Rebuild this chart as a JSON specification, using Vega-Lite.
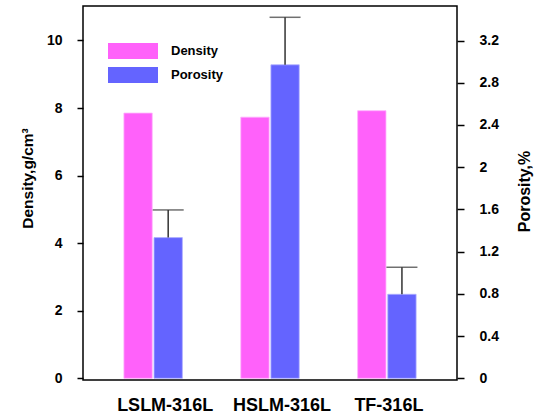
{
  "$schema": "https://vega.github.io/schema/vega-lite/v6.json",
  "width": 374,
  "height": 374,
  "autosize": {"type": "none"},
  "padding": {"left": 83, "top": 6, "right": 77, "bottom": 38},
  "background": "white",
  "data": {
    "values": [
      {"sample": "LSLM-316L", "series": "Density", "value": 7.85, "upper": null},
      {"sample": "HSLM-316L", "series": "Density", "value": 7.73, "upper": null},
      {"sample": "TF-316L", "series": "Density", "value": 7.92, "upper": null},
      {"sample": "LSLM-316L", "series": "Porosity", "value": 1.333, "upper": 1.595},
      {"sample": "HSLM-316L", "series": "Porosity", "value": 2.97, "upper": 3.42},
      {"sample": "TF-316L", "series": "Porosity", "value": 0.796, "upper": 1.052}
    ]
  },
  "encoding": {
    "x": {
      "field": "sample", "type": "nominal", "sort": ["LSLM-316L", "HSLM-316L", "TF-316L"],
      "scale": {"paddingInner": 0.5, "paddingOuter": 0.35},
      "axis": {"title": null, "ticks": false, "labelAngle": 0, "labelFontSize": 18, "labelPadding": 16,
               "labelOffset": {"condition": {"test": "datum.value === 'TF-316L'", "value": 2}, "value": 12}}
    },
    "xOffset": {
      "field": "series", "type": "nominal",
      "scale": {"domain": ["Density", "Porosity"], "paddingInner": 0.06, "paddingOuter": 0}
    }
  },
  "layer": [
    {
      "transform": [{"filter": "datum.series === 'Density'"}],
      "mark": {"type": "bar", "stroke": "#ffb0fd", "strokeWidth": 0.8},
      "encoding": {
        "y": {
          "field": "value", "type": "quantitative",
          "scale": {"domain": [-0.05, 11.02], "nice": false, "zero": false},
          "axis": {"orient": "left", "title": "Density,g/cm³", "values": [0, 2, 4, 6, 8, 10], "format": "d",
                   "labelFontSize": 14, "tickSize": 6, "tickWidth": 1.5, "labelPadding": 15,
                   "titleFontSize": 15.5, "titlePadding": 11, "titleY": 172}
        },
        "y2": {"datum": 0},
        "color": {
          "field": "series", "type": "nominal",
          "scale": {"domain": ["Density", "Porosity"], "range": ["#ff61fa", "#6464ff"]},
          "legend": {
            "orient": "none", "legendX": 42, "legendY": 37, "title": null, "padding": 0,
            "symbolType": "M-3.125,-1H3.125V1H-3.125Z", "symbolSize": 256, "symbolStrokeWidth": 0,
            "symbolOpacity": 1, "labelFontSize": 13, "labelFont": "Liberation Sans",
            "labelFontWeight": "bold", "labelColor": "#000", "labelOffset": 30, "rowPadding": 8
          }
        }
      }
    },
    {
      "transform": [{"filter": "datum.series === 'Porosity'"}],
      "layer": [
        {
          "mark": {"type": "bar", "stroke": "#b0b0ff", "strokeWidth": 0.8},
          "encoding": {
            "y": {
              "field": "value", "type": "quantitative",
              "scale": {"domain": [-0.016, 3.527], "nice": false, "zero": false},
              "axis": {"orient": "right", "title": "Porosity,%", "values": [0, 0.4, 0.8, 1.2, 1.6, 2, 2.4, 2.8, 3.2], "format": "~g",
                       "labelFontSize": 14, "tickSize": 7, "tickWidth": 1.5, "labelPadding": 15,
                       "titleFontSize": 16, "titlePadding": 18, "titleAngle": 270, "titleBaseline": "top", "titleY": 185}
            },
            "y2": {"datum": 0},
            "color": {"field": "series", "type": "nominal"}
          }
        },
        {
          "mark": {"type": "rule", "color": "#333333", "strokeWidth": 1.5},
          "encoding": {
            "y": {"field": "value", "type": "quantitative", "axis": {"orient": "right", "title": "Porosity,%"}},
            "y2": {"field": "upper"}
          }
        },
        {
          "mark": {"type": "tick", "color": "#333333", "thickness": 1.5, "size": 31, "orient": "horizontal"},
          "encoding": {
            "y": {"field": "upper", "type": "quantitative", "axis": {"orient": "right", "title": "Porosity,%"}}
          }
        }
      ]
    }
  ],
  "resolve": {"scale": {"y": "independent"}},
  "config": {
    "view": {"stroke": "#000", "strokeWidth": 1.5},
    "axis": {
      "domain": false, "grid": false,
      "labelFont": "Liberation Sans", "labelFontWeight": "bold", "labelColor": "#000",
      "titleFont": "Liberation Sans", "titleFontWeight": "bold", "titleColor": "#000",
      "tickColor": "#000"
    }
  }
}
